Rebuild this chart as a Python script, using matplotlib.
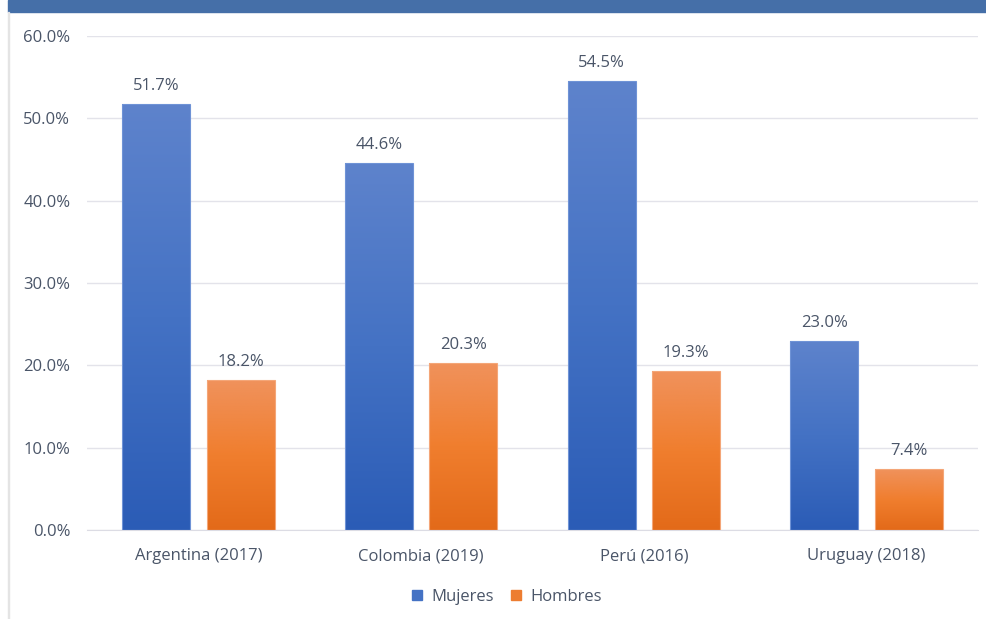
import matplotlib.pyplot as plt
import numpy as np
from matplotlib.colors import LinearSegmentedColormap
from matplotlib.patches import Rectangle

# Datos
paises = ['Argentina (2017)', 'Colombia (2019)', 'Perú (2016)', 'Uruguay (2018)']
mujeres = [51.7, 44.6, 54.5, 23.0]
hombres = [18.2, 20.3, 19.3, 7.4]

plt.rcParams['font.family'] = ['Open Sans', 'DejaVu Sans']
txt = '#4a5568'

fig = plt.figure(figsize=(9.87, 6.19), dpi=100)
fig.patch.set_facecolor('white')

# banda azul arriba y borde izquierdo
fig.patches.append(Rectangle((8 / 987, 1 - 12 / 619), 1, 12 / 619, transform=fig.transFigure,
                             color='#456fa8', zorder=0))
fig.patches.append(Rectangle((8 / 987, 0), 1 / 987, 1 - 12 / 619, transform=fig.transFigure,
                             color='#e4e4e4', zorder=0))

ax = fig.add_axes([87 / 987, 89 / 619, 891 / 987, 494 / 619])
x = np.arange(len(paises))
w = 0.305
off = 0.19

cm_azul = LinearSegmentedColormap.from_list('az', ['#2b5cb6', '#4472c4', '#5e83cc'])
cm_nar = LinearSegmentedColormap.from_list('na', ['#e36a19', '#f07e2e', '#f0925c'])
grad = np.linspace(0, 1, 256).reshape(-1, 1)


def barras(pos, vals, cmap, borde):
    bars = ax.bar(pos, vals, w, color='none', edgecolor=borde, linewidth=0.8, zorder=3)
    for b in bars:
        x0, y0 = b.get_x(), b.get_y()
        im = ax.imshow(grad, cmap=cmap, origin='lower', aspect='auto',
                       extent=[x0, x0 + b.get_width(), y0, y0 + b.get_height()], zorder=2)
        im.set_clip_path(b)
    return bars


b1 = barras(x - off, mujeres, cm_azul, '#6f93d6')
b2 = barras(x + off, hombres, cm_nar, '#f4a678')

for pos, v in zip(x - off, mujeres):
    ax.text(pos, v + 1.2, f'{v:.1f}%', ha='center', va='bottom', fontsize=12, color=txt)
for pos, v in zip(x + off, hombres):
    ax.text(pos, v + 1.2, f'{v:.1f}%', ha='center', va='bottom', fontsize=12, color=txt)

ax.set_xlim(-0.5, len(paises) - 0.5)
ax.set_ylim(0, 60)
ax.set_yticks(np.arange(0, 61, 10))
ax.set_yticklabels([f'{t:.1f}%' for t in np.arange(0, 61, 10)])
ax.set_xticks(x)
ax.set_xticklabels(paises)
ax.tick_params(axis='both', length=0, labelsize=12, colors=txt)
ax.tick_params(axis='y', pad=12)
ax.tick_params(axis='x', pad=13)
ax.grid(axis='y', color='#e3e3ea', linewidth=1)
ax.set_axisbelow(True)
for s in ['top', 'right', 'left']:
    ax.spines[s].set_visible(False)
ax.spines['bottom'].set_color('#dcdce4')

h1 = Rectangle((0, 0), 1, 1, color='#4472c4')
h2 = Rectangle((0, 0), 1, 1, color='#ed7d31')
fig.legend([h1, h2], ['Mujeres', 'Hombres'], loc='center', bbox_to_anchor=(507 / 987, 1 - 597 / 619),
           ncol=2, frameon=False, fontsize=12, labelcolor=txt, handlelength=0.6, handleheight=0.6,
           columnspacing=1.0, handletextpad=0.6)

plt.savefig('out.png', dpi=100)
